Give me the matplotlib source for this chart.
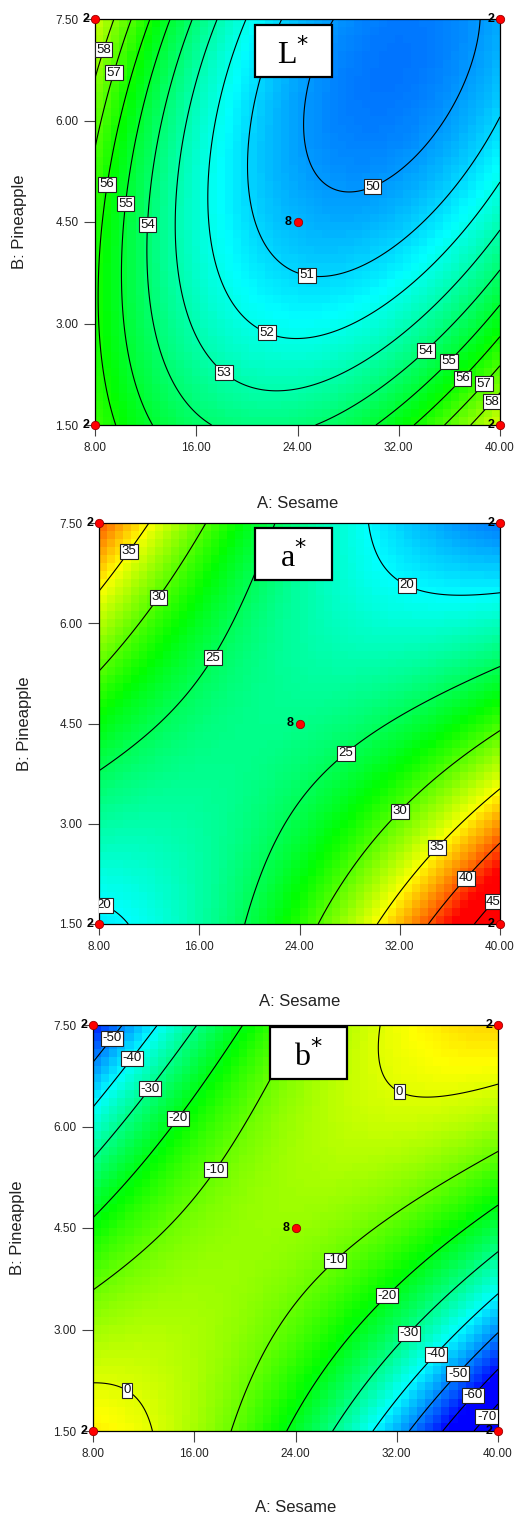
import numpy as np
import matplotlib
matplotlib.use("Agg")
import matplotlib.pyplot as plt
from matplotlib.colors import LinearSegmentedColormap
from matplotlib.patches import Rectangle

plt.rcParams["font.family"] = ["Liberation Sans", "DejaVu Sans"]

A_TICKS = [8.0, 16.0, 24.0, 32.0, 40.0]
B_TICKS = [1.5, 3.0, 4.5, 6.0, 7.5]

# response models in coded units, terms:
# 1, x, y, xy, x^2, y^2, x^2y, xy^2, x^3, y^3   (x = (A-24)/16, y = (B-4.5)/3)
L_COEF = [50.472, -1.659, -1.669, -2.858, 4.118, 1.769, -0.021, 0.204, -0.113, 0.068]
A_COEF = [23.493, 1.352, -2.940, -13.151, 4.827, 2.556, -0.239, 0.072, -0.249, 0.391]
B_COEF = [-6.090, -4.007, 6.983, 36.918, -15.514, -10.111, -0.348, -1.047, 0.845, -1.398]

L_LEVELS = [50, 51, 52, 53, 54, 55, 56, 57, 58]
A_LEVELS = [20, 25, 30, 35, 40, 45]
B_LEVELS = [-70, -60, -50, -40, -30, -20, -10, 0]

L_LABELS = [(8.79, 7.04), (9.58, 6.70), (8.95, 5.06), (10.37, 4.77), (12.1, 4.46), (18.35, 2.31),
            (21.6, 2.87), (24.75, 3.72), (29.8, 5.08), (33.9, 2.65), (35.65, 2.50), (36.7, 2.25),
            (38.3, 2.18), (39.0, 1.91)]
A_LABELS = [(10.4, 7.08), (12.6, 6.41), (16.6, 5.54), (32.7, 6.62), (27.8, 4.03), (31.9, 3.21),
            (34.8, 2.68), (37.0, 2.23), (39.1, 1.90), (8.7, 1.90)]
B_LABELS = [(9.45, 7.31), (11.1, 7.01), (12.5, 6.56), (14.7, 6.13), (17.6, 5.37), (32.4, 6.58),
            (27.1, 4.03), (31.1, 3.52), (32.8, 2.97), (34.9, 2.67), (36.6, 2.38), (37.8, 2.07),
            (38.8, 1.76), (11.2, 2.27)]

DESIGN_A = [8, 40, 8, 40, 24]
DESIGN_B = [1.5, 1.5, 7.5, 7.5, 4.5]
DESIGN_N = ["2", "2", "2", "2", "8"]


def basis(x, y):
    return np.stack([np.ones_like(x), x, y, x * y, x ** 2, y ** 2,
                     x ** 2 * y, x * y ** 2, x ** 3, y ** 3], -1)


cmap = LinearSegmentedColormap.from_list(
    "dx", ["#0000ff", "#00ffff", "#00ff00", "#ffff00", "#ff0000"])

W, H = 517, 1517
fig = plt.figure(figsize=(W / 100, H / 100), dpi=100)

panels = [
    # coef, levels, labels, vmin, vmax, axes px (left, top, right, bottom), title, box, xlabel y, ylabel x
    (L_COEF, L_LEVELS, L_LABELS, 47.5, 64.0, (95, 19, 500, 425), "L", (0.395, 0.857, 0.19, 0.128), 503, 20),
    (A_COEF, A_LEVELS, A_LABELS, 12.5, 42.5, (99, 523, 500, 924), "a", (0.389, 0.858, 0.192, 0.13), 1002, 25),
    (B_COEF, B_LEVELS, B_LABELS, -61.0, 24.0, (93, 1025, 498, 1431), "b", (0.437, 0.867, 0.19, 0.128), 1508, 18),
]

for coef, levels, labpos, vmin, vmax, (l, t, r, b), title, box, xl_y, yl_x in panels:
    coef = np.array(coef)
    ax = fig.add_axes([l / W, 1 - b / H, (r - l) / W, (b - t) / H])

    # coarse colour cells like the original export
    edges = np.linspace(-1, 1, 51)
    mids = (edges[:-1] + edges[1:]) / 2
    mx, my = np.meshgrid(mids, mids)
    zc = basis(mx, my) @ coef
    ax.pcolormesh(24 + 16 * edges, 4.5 + 3 * edges, zc, cmap=cmap,
                  vmin=vmin, vmax=vmax, shading="flat")

    g = np.linspace(-1, 1, 241)
    gx, gy = np.meshgrid(g, g)
    z = basis(gx, gy) @ coef
    cs = ax.contour(24 + 16 * g, 4.5 + 3 * g, z, levels=levels, colors="black",
                    linewidths=0.8, linestyles="solid")
    texts = ax.clabel(cs, fmt="%d", fontsize=9.5, inline=False, manual=labpos)
    for tx in texts:
        tx.set_rotation(0)
        tx.set_color("#111111")
        tx.set_bbox(dict(facecolor="white", edgecolor="#222222", linewidth=0.8, pad=1.0))

    ax.plot(DESIGN_A, DESIGN_B, "o", ms=6, mfc="#ff0000", mec="#990000", mew=0.6,
            clip_on=False, zorder=6)
    for a_, b_, n_ in zip(DESIGN_A, DESIGN_B, DESIGN_N):
        ax.text(a_ - 0.45, b_, n_, ha="right", va="center", fontsize=9,
                fontweight="bold", zorder=7, clip_on=False)

    bx, by, bw, bh = box
    ax.add_patch(Rectangle((bx, by), bw, bh, transform=ax.transAxes, facecolor="white",
                           edgecolor="black", linewidth=1.6, zorder=8))
    ax.text(bx + bw / 2, by + bh / 2 - 0.01, title + "$^{*}$", transform=ax.transAxes,
            ha="center", va="center", fontsize=23, family="Liberation Serif", zorder=9)

    ax.set_xlim(8, 40)
    ax.set_ylim(1.5, 7.5)
    ax.set_xticks(A_TICKS)
    ax.set_yticks(B_TICKS)
    ax.set_xticklabels([f"{v:.2f}" for v in A_TICKS])
    ax.set_yticklabels([f"{v:.2f}" for v in B_TICKS])
    ax.tick_params(direction="out", length=8, width=0.8, color="#444444",
                   labelsize=8.5, pad=4, labelcolor="#222222")
    for s in ax.spines.values():
        s.set_linewidth(0.9)
    fig.text(((l + r) / 2) / W, 1 - xl_y / H, "A: Sesame", ha="center", va="center",
             fontsize=12, color="#222222")
    fig.text(yl_x / W, 1 - ((t + b) / 2) / H, "B: Pineapple", ha="center", va="center",
             rotation=90, fontsize=12, color="#222222")

fig.savefig("out.png", dpi=100)
